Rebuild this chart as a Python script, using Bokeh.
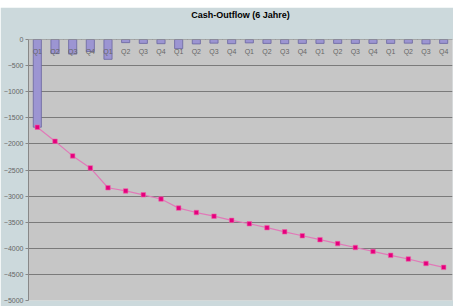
from bokeh.plotting import figure
from bokeh.models import FixedTicker, Range1d, Title
from bokeh.embed import file_html
from bokeh.resources import INLINE

quarters = ["Q1", "Q2", "Q3", "Q4"] * 6
outflow = [-1680, -270, -280, -230, -380, -60, -75, -80, -175, -85, -70, -80,
           -65, -75, -80, -75, -75, -75, -75, -75, -75, -70, -85, -75]
cumulative = [-1680, -1950, -2230, -2460, -2840, -2900, -2975, -3055, -3230, -3315,
              -3385, -3465, -3530, -3605, -3685, -3760, -3835, -3910, -3985, -4060,
              -4135, -4205, -4290, -4365]
y_ticks = [-5000, -4500, -4000, -3500, -3000, -2500, -2000, -1500, -1000, -500, 0]
title = "Cash-Outflow (6 Jahre)"

xs = list(range(len(quarters)))
FONT = "Liberation Sans"
BG = "#CCD9DC"

p = figure(width=453, height=299, output_backend="svg", toolbar_location=None,
           title=None,
           x_range=Range1d(-0.5, len(quarters) - 0.5), y_range=Range1d(-5000, 0),
           min_border_left=0, min_border_right=1, min_border_top=31, min_border_bottom=6,
           background_fill_color="#C6C6C6", border_fill_color=BG)
p.margin = (7, 0, 0, 0)
p.outline_line_color = None

# spacer between title and plot area, then the title itself
p.add_layout(Title(text=" ", text_font_size="9px", text_color=BG, standoff=8), "above")
p.add_layout(Title(text=title, align="center", text_font=FONT, text_font_size="9px",
                   text_font_style="bold", text_color="#000000", standoff=0), "above")

p.vbar(x=xs, top=outflow, bottom=0, width=0.46, fill_color="#9C95D2",
       line_color="#6A66A0", line_width=0.8)
p.line(xs, cumulative, line_color="#E07AB8", line_width=1.2)
p.scatter(xs, cumulative, marker="square", size=4.5, fill_color="#E5007D",
          line_color="#F060A8", line_width=0.6)

# x axis at y = 0
xa = p.xaxis[0]
xa.fixed_location = 0
xa.ticker = FixedTicker(ticks=xs, minor_ticks=[i - 0.5 for i in range(len(quarters) + 1)])
xa.major_label_overrides = {i: q for i, q in enumerate(quarters)}
xa.major_tick_line_color = None
xa.minor_tick_in = 4
xa.minor_tick_out = 0
xa.minor_tick_line_color = "#777777"
xa.axis_line_color = "#777777"
xa.major_label_text_font = FONT
xa.major_label_text_font_size = "7px"
xa.major_label_text_color = "#666666"
xa.major_label_standoff = 2

ya = p.yaxis[0]
ya.ticker = FixedTicker(ticks=y_ticks)
ya.axis_line_color = "#888888"
ya.major_tick_line_color = "#888888"
ya.major_tick_in = 0
ya.major_tick_out = 3
ya.minor_tick_line_color = None
ya.major_label_text_font = FONT
ya.major_label_text_font_size = "7px"
ya.major_label_text_color = "#666666"
ya.major_label_standoff = 2

p.xgrid.grid_line_color = None
p.ygrid.grid_line_color = "#7A7A7A"
p.ygrid.grid_line_width = 1
p.ygrid.ticker = FixedTicker(ticks=y_ticks)

open("out.html", "w").write(file_html(p, INLINE))
